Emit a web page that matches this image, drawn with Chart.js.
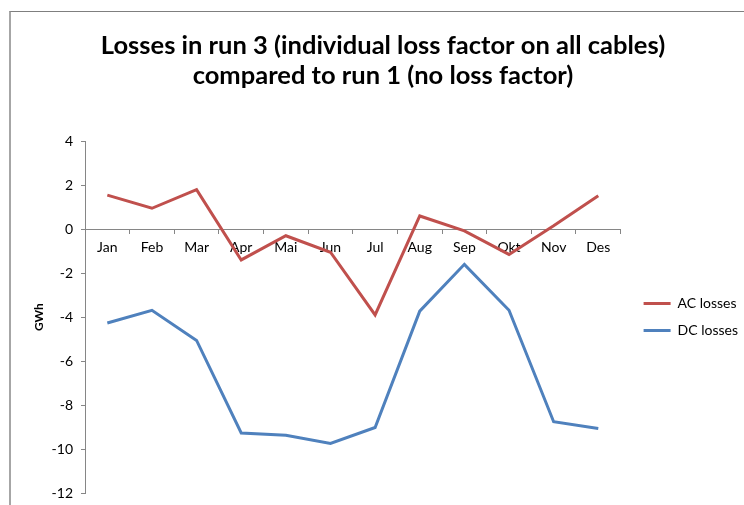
<!DOCTYPE html>
<html>
<head>
<meta charset="utf-8">
<script src="https://cdn.jsdelivr.net/npm/chart.js@4.4.1/dist/chart.umd.min.js"></script>
<style>
  body { margin: 0; background: #fff; }
  #wrap { position: relative; width: 744px; height: 505px; overflow: hidden; }
  #frame {
    position: absolute; left: 9px; top: 11px; width: 800px; height: 600px;
    border-left: 2px solid #a6a6a6; border-top: 1px solid #7f7f7f;
  }
  #chart { position: absolute; left: 0; top: 0; }
</style>
</head>
<body>
<div id="wrap">
  <div id="frame"></div>
  <canvas id="chart" width="744" height="505"></canvas>
</div>
<script>
// 月份
var months = ['Jan', 'Feb', 'Mar', 'Apr', 'Mai', 'Jun', 'Jul', 'Aug', 'Sep', 'Okt', 'Nov', 'Des'];

// 损耗差值 (GWh)
var acLosses = [1.55, 0.95, 1.8, -1.4, -0.3, -1.05, -3.9, 0.6, -0.08, -1.15, 0.15, 1.52];
var dcLosses = [-4.27, -3.69, -5.06, -9.27, -9.37, -9.75, -9.02, -3.73, -1.6, -3.69, -8.76, -9.07];

// y轴范围
var yMin = -12;
var yMax = 4;
var yStep = 2;

var axisGray = '#868686';
var font = 'Lato, "Liberation Sans", sans-serif';

// 图例右移一点
var legendShift = {
    id: 'legendShift',
    afterLayout: function(chart) {
        chart.legend.left += 10;
        chart.legend.right += 10;
    }
};

var ctx = document.getElementById('chart').getContext('2d');
window.lossChart = new Chart(ctx, {
    type: 'line',
    data: {
        labels: months,
        datasets: [{
            label: 'AC losses',
            data: acLosses,
            borderColor: '#C0504D',
            backgroundColor: '#C0504D',
            borderWidth: 3,
            pointRadius: 0,
            tension: 0
        }, {
            label: 'DC losses',
            data: dcLosses,
            borderColor: '#4F81BD',
            backgroundColor: '#4F81BD',
            borderWidth: 3,
            pointRadius: 0,
            tension: 0
        }]
    },
    options: {
        responsive: false,
        animation: false,
        devicePixelRatio: 1,
        layout: {
            padding: { left: 28, right: 6, top: 0, bottom: 12 }
        },
        scales: {
            x: {
                position: { y: 0 },
                offset: true,
                grid: {
                    offset: true,
                    drawOnChartArea: false,
                    drawTicks: true,
                    tickLength: 4,
                    color: axisGray
                },
                border: { color: axisGray, width: 1 },
                ticks: {
                    color: '#000',
                    padding: 6,
                    maxRotation: 0,
                    font: { family: font, size: 14 }
                }
            },
            y: {
                min: yMin,
                max: yMax,
                afterFit: function(scale) {
                    scale.width = 57;
                    scale.paddingTop = 0;
                    scale.paddingBottom = 0;
                },
                grid: {
                    drawOnChartArea: false,
                    tickLength: 4,
                    color: axisGray
                },
                border: { color: axisGray, width: 1 },
                ticks: {
                    stepSize: yStep,
                    color: '#000',
                    padding: 8,
                    font: { family: font, size: 14 }
                },
                title: {
                    display: true,
                    text: 'GWh',
                    color: '#000',
                    font: { family: font, size: 12, weight: 'bold' }
                }
            }
        },
        plugins: {
            title: {
                display: true,
                text: ['Losses in run 3 (individual loss factor on all cables)', 'compared to run 1 (no loss factor)'],
                color: '#000',
                font: { family: font, size: 25.5, weight: 'bold', lineHeight: 1.2 },
                padding: { top: 30, bottom: 50 }
            },
            legend: {
                position: 'right',
                align: 'center',
                fullSize: false,
                labels: {
                    usePointStyle: true,
                    pointStyle: 'line',
                    pointStyleWidth: 27,
                    color: '#000',
                    padding: 13,
                    font: { family: font, size: 14 }
                }
            },
            tooltip: { enabled: false }
        }
    },
    plugins: [legendShift]
});
</script>
</body>
</html>
